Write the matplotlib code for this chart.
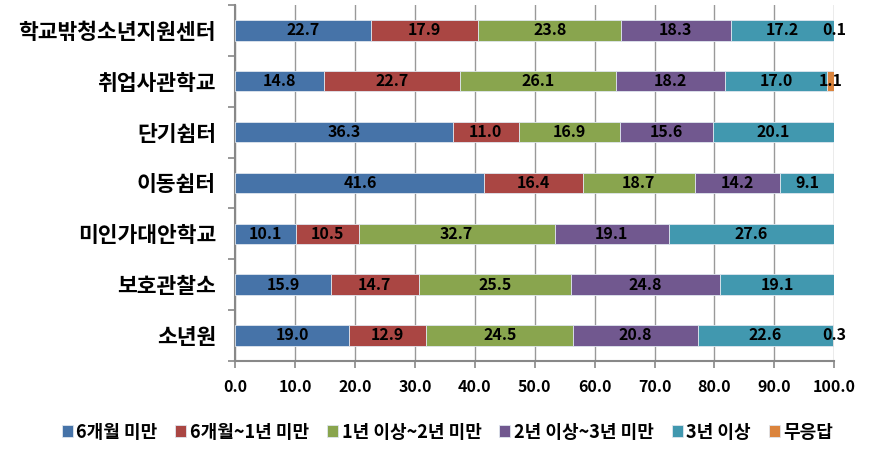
import numpy as np
import matplotlib
matplotlib.use("Agg")
from matplotlib import pyplot as plt
from matplotlib.ticker import MultipleLocator, FixedLocator

plt.rcParams['font.family'] = ['Noto Sans CJK KR', 'DejaVu Sans']

# Categories, top to bottom
categories = ["학교밖청소년지원센터", "취업사관학교", "단기쉼터", "이동쉼터",
              "미인가대안학교", "보호관찰소", "소년원"]
series_names = ["6개월 미만", "6개월~1년 미만", "1년 이상~2년 미만",
                "2년 이상~3년 미만", "3년 이상", "무응답"]

under_6m = [22.7, 14.8, 36.3, 41.6, 10.1, 15.9, 19.0]
m6_to_1y = [17.9, 22.7, 11.0, 16.4, 10.5, 14.7, 12.9]
y1_to_2y = [23.8, 26.1, 16.9, 18.7, 32.7, 25.5, 24.5]
y2_to_3y = [18.3, 18.2, 15.6, 14.2, 19.1, 24.8, 20.8]
over_3y = [17.2, 17.0, 20.1, 9.1, 27.6, 19.1, 22.6]
no_answer = [0.1, 1.1, 0.0, 0.0, 0.0, 0.0, 0.3]

colors = ["#4673A8", "#AA4643", "#89A54E", "#71588F", "#4198AF", "#DB843D"]

data = [under_6m, m6_to_1y, y1_to_2y, y2_to_3y, over_3y, no_answer]

fig = plt.figure(figsize=(8.95, 4.5), dpi=100)
ax = fig.add_axes([0.263, 0.198, 0.669, 0.791])

y = np.arange(len(categories))[::-1]
left = np.zeros(len(categories))
for name, vals, c in zip(series_names, data, colors):
    vals = np.array(vals)
    ax.barh(y, vals, left=left, height=0.4, color=c, label=name,
            edgecolor="#dfe6ee", linewidth=0.6, zorder=3)
    for yi, l, v in zip(y, left, vals):
        if v > 0:
            ax.text(l + v / 2, yi, f"{v:.1f}", ha="center", va="center",
                    fontsize=11.5, fontweight="bold", color="black",
                    zorder=4)
    left = left + vals

ax.set_xlim(0, 100)
ax.set_ylim(-0.5, len(categories) - 0.5)
ax.xaxis.set_major_locator(MultipleLocator(10))
ax.set_xticklabels([f"{v:.1f}" for v in ax.get_xticks()])
ax.set_yticks(y)
ax.set_yticklabels(categories, fontsize=15.5, fontweight="bold")
ax.yaxis.set_minor_locator(FixedLocator(np.arange(-0.5, len(categories), 1)))
ax.tick_params(axis="y", which="major", length=0, pad=14)
ax.tick_params(axis="y", which="minor", length=5, color="#888888", width=1.2)
ax.tick_params(axis="x", length=5, color="#888888", width=1.2, pad=8)
for lab in ax.get_xticklabels():
    lab.set_fontweight("bold")
    lab.set_fontsize(11.5)

ax.grid(axis="x", color="#999999", linewidth=1.0, zorder=0)
for s in ["top", "right"]:
    ax.spines[s].set_visible(False)
for s in ["left", "bottom"]:
    ax.spines[s].set_color("#888888")
    ax.spines[s].set_linewidth(1.5)

fig.legend(loc="center", bbox_to_anchor=(0.5, 0.04), ncol=6, frameon=False,
           handlelength=0.6, handleheight=0.6, handletextpad=0.2,
           columnspacing=1.0, prop={"weight": "bold", "size": 13})

fig.savefig("out.png", dpi=100)
